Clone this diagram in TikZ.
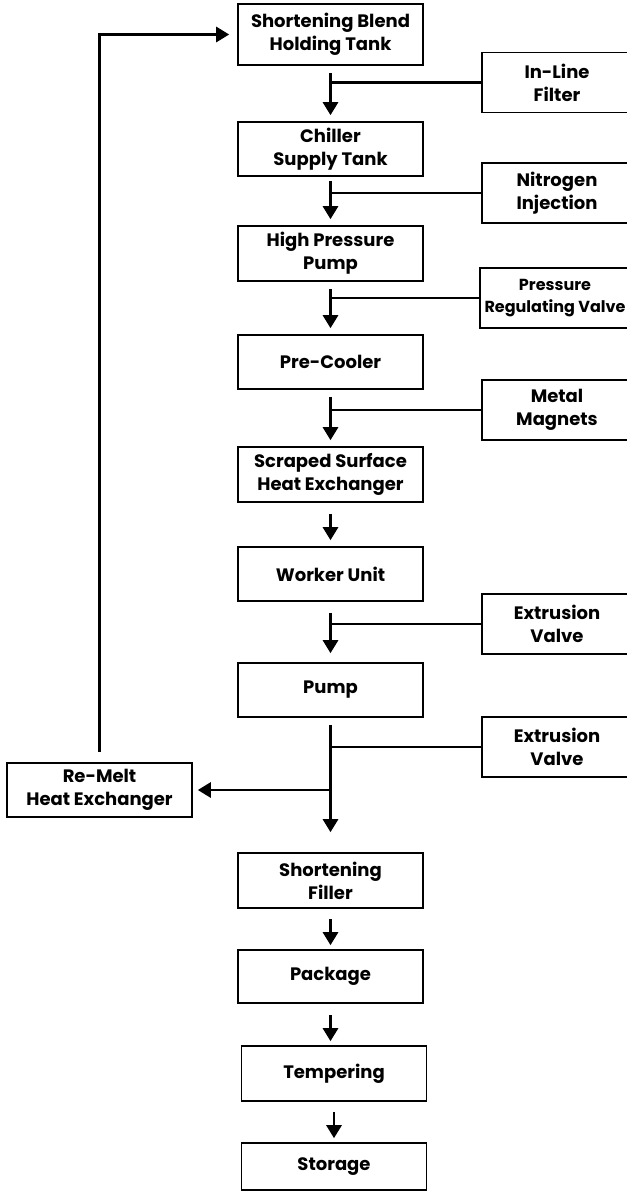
\documentclass[tikz,border=0pt]{standalone}
\usepackage{fontspec}
\setsansfont{Poppins}
\usepackage{tikz}
\usetikzlibrary{arrows.meta}

\begin{document}
\begin{tikzpicture}[x=1pt, y=-1pt,
  every node/.style={font=\sffamily\bfseries\fontsize{18}{23}\selectfont},
  stage/.style={draw, line width=1.6pt, minimum width=185pt, minimum height=54pt,
             inner sep=0pt, align=center},
  side/.style={draw, line width=1.6pt, minimum width=150pt, minimum height=60pt,
             inner sep=0pt, align=center},
  arr/.style={-{Triangle[length=13pt, width=15pt]}, line width=2.8pt,
             shorten <=7pt, shorten >=6pt},
  feed/.style={line width=2.8pt},
]
\useasboundingbox (0,0) rectangle (626,1198);

% Main column
\node[stage, minimum height=61pt] (hold) at (330.5, 34.5) {Shortening Blend\\Holding Tank};
\node[stage] (chill) at (330.5, 149) {Chiller\\Supply Tank};
\node[stage, minimum height=55pt] (hpp) at (330.5, 253.5) {High Pressure\\Pump};
\node[stage] (precool) at (330.5, 362) {Pre-Cooler};
\node[stage, minimum height=55pt] (sshe) at (330.5, 474.5) {Scraped Surface\\Heat Exchanger};
\node[stage] (worker) at (330.5, 574) {Worker Unit};
\node[stage] (pump) at (330.5, 690) {Pump};
\node[stage, minimum height=55pt] (filler) at (330.5, 880.5) {Shortening\\Filler};
\node[stage, minimum height=53pt] (package) at (330.5, 976.5) {Package};
\node[stage, minimum height=55pt] (temper) at (334, 1073.5) {Tempering};
\node[stage, minimum height=47pt] (storage) at (334, 1166.5) {Storage};

% Right column: side units
\node[side] (filter) at (557, 82.5) {In-Line\\Filter};
\node[side] (nitro) at (557, 193) {Nitrogen\\Injection};
\node[side, font=\sffamily\bfseries\fontsize{16}{22}\selectfont] (prv) at (555, 298)
  {Pressure\\Regulating Valve};
\node[side] (magnet) at (557, 410) {Metal\\Magnets};
\node[side] (valveA) at (557, 624) {Extrusion\\Valve};
\node[side] (valveB) at (557, 747) {Extrusion\\Valve};

% Left: re-melt loop
\node[stage, minimum height=54pt] (remelt) at (99.5, 790) {Re-Melt\\Heat Exchanger};

% Arrows
\draw[arr] (hold) -- (chill);
\draw[arr, shorten <=4pt] (chill) -- (hpp);
\draw[arr] (hpp) -- (precool);
\draw[arr] (precool) -- (sshe);
\draw[arr, shorten <=11pt] (sshe) -- (worker);
\draw[arr, shorten <=11pt, shorten >=9pt] (worker) -- (pump);
\draw[arr, shorten >=20pt] (pump) -- (filler);
\draw[arr, shorten <=10pt, shorten >=4pt] (filler) -- (package);
\draw[arr, shorten <=11pt, shorten >=4pt] (package.south) -- (package.south |- temper.north);
\draw[arr, shorten <=10pt, shorten >=4pt] (temper) -- (storage);

% Side feeds
\draw[feed] (filter.west) -- (filter.west -| hold.south);
\draw[feed] (nitro.west) -- (nitro.west -| hold.south);
\draw[feed] (prv.west) -- (prv.west -| hold.south);
\draw[feed] (magnet.west) -- (magnet.west -| hold.south);
\draw[feed] (valveA.west) -- (valveA.west -| hold.south);
\draw[feed] (valveB.west) -- (valveB.west -| hold.south);

% Re-melt return
\draw[arr, shorten <=0pt, shorten >=0pt] (remelt.east -| pump.south) -- ([xshift=5pt]remelt.east);
\draw[arr, shorten <=10pt, shorten >=8pt] (remelt.north) |- (hold.west);

\end{tikzpicture}
\end{document}
